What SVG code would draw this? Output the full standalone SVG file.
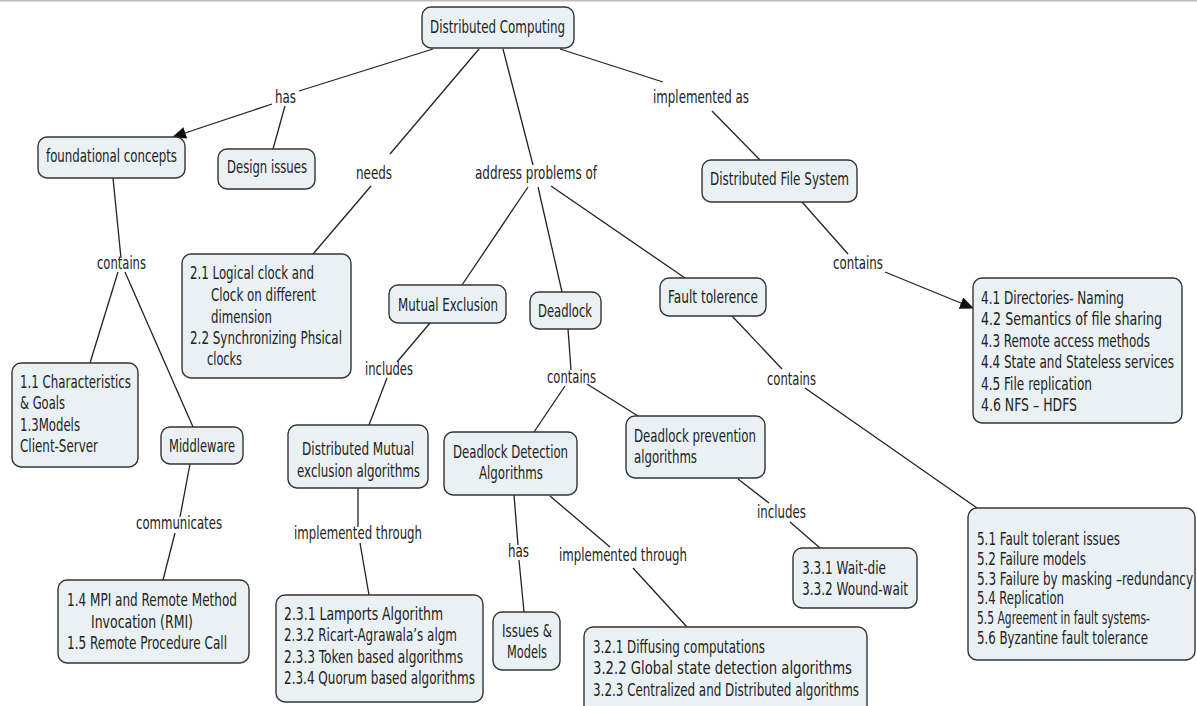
<svg xmlns="http://www.w3.org/2000/svg" width="1197" height="706" viewBox="0 0 1197 706">
<style>
.n rect{fill:#eaf1f4;stroke:#333;stroke-width:1.4}
text{font-family:"DejaVu Sans Condensed","DejaVu Sans","Liberation Sans",sans-serif;font-size:17px;fill:#222}
.c line{stroke:#222;stroke-width:1.3}
</style>
<defs>
<marker id="ah" markerUnits="userSpaceOnUse" markerWidth="14" markerHeight="12" refX="13" refY="6" orient="auto">
<path d="M0,0 L14,6 L0,12 Z" fill="#111"/>
</marker>
</defs>
<rect x="0" y="0" width="1197" height="706" fill="#fff"/>
<line x1="0" y1="0.8" x2="1197" y2="0.8" stroke="#bbb" stroke-width="1.6"/>
<g class="c" id="connectors">
<line x1="433" y1="49" x2="299" y2="91"/>
<line x1="272" y1="104" x2="173" y2="137" marker-end="url(#ah)"/>
<line x1="285" y1="106" x2="273" y2="149"/>
<line x1="479" y1="49" x2="390" y2="154"/>
<line x1="371" y1="186" x2="313" y2="254"/>
<line x1="503" y1="49" x2="533" y2="165"/>
<line x1="528" y1="187" x2="462" y2="285"/>
<line x1="538" y1="187" x2="562" y2="292"/>
<line x1="551" y1="186" x2="685" y2="278"/>
<line x1="560" y1="49" x2="663" y2="82"/>
<line x1="712" y1="111" x2="760" y2="160"/>
<line x1="802" y1="202" x2="848" y2="254"/>
<line x1="885" y1="272" x2="973" y2="308" marker-end="url(#ah)"/>
<line x1="113" y1="178" x2="121" y2="258"/>
<line x1="118" y1="272" x2="90" y2="363"/>
<line x1="125" y1="272" x2="193" y2="427"/>
<line x1="190" y1="464" x2="180" y2="517"/>
<line x1="175" y1="533" x2="163" y2="580"/>
<line x1="430" y1="323" x2="397" y2="362"/>
<line x1="387" y1="378" x2="369" y2="425"/>
<line x1="358" y1="488" x2="358" y2="527"/>
<line x1="360" y1="543" x2="369" y2="595"/>
<line x1="568" y1="329" x2="571" y2="370"/>
<line x1="565" y1="386" x2="534" y2="432"/>
<line x1="587" y1="384" x2="638" y2="416"/>
<line x1="514" y1="495" x2="518" y2="545"/>
<line x1="519" y1="560" x2="524" y2="612"/>
<line x1="550" y1="496" x2="610" y2="547"/>
<line x1="633" y1="568" x2="687" y2="627"/>
<line x1="738" y1="479" x2="769" y2="503"/>
<line x1="790" y1="522" x2="820" y2="548"/>
<line x1="732" y1="316" x2="782" y2="369"/>
<line x1="805" y1="388" x2="977" y2="508"/>
</g>
<g id="labels">
<text x="275" y="103" textLength="21" lengthAdjust="spacingAndGlyphs">has</text>
<text x="356" y="179" textLength="36" lengthAdjust="spacingAndGlyphs">needs</text>
<text x="475" y="179" textLength="122" lengthAdjust="spacingAndGlyphs">address problems of</text>
<text x="653" y="103" textLength="96" lengthAdjust="spacingAndGlyphs">implemented as</text>
<text x="97" y="269" textLength="49" lengthAdjust="spacingAndGlyphs">contains</text>
<text x="833" y="269" textLength="50" lengthAdjust="spacingAndGlyphs">contains</text>
<text x="365" y="375" textLength="48" lengthAdjust="spacingAndGlyphs">includes</text>
<text x="547" y="383" textLength="49" lengthAdjust="spacingAndGlyphs">contains</text>
<text x="767" y="385" textLength="49" lengthAdjust="spacingAndGlyphs">contains</text>
<text x="136" y="529" textLength="86" lengthAdjust="spacingAndGlyphs">communicates</text>
<text x="294" y="539" textLength="128" lengthAdjust="spacingAndGlyphs">implemented through</text>
<text x="508" y="557" textLength="21" lengthAdjust="spacingAndGlyphs">has</text>
<text x="559" y="561" textLength="128" lengthAdjust="spacingAndGlyphs">implemented through</text>
<text x="757" y="518" textLength="49" lengthAdjust="spacingAndGlyphs">includes</text>
</g>
<g class="n" id="n-dc"><rect x="422" y="7" width="152" height="41" rx="9"/>
<text x="430" y="33" textLength="135" lengthAdjust="spacingAndGlyphs">Distributed Computing</text></g>
<g class="n" id="n-fc"><rect x="38" y="137" width="147" height="41" rx="9"/>
<text x="46" y="162" textLength="131" lengthAdjust="spacingAndGlyphs">foundational concepts</text></g>
<g class="n" id="n-di"><rect x="218" y="149" width="97" height="40" rx="9"/>
<text x="227" y="173" textLength="80" lengthAdjust="spacingAndGlyphs">Design issues</text></g>
<g class="n" id="n-clock"><rect x="182" y="254" width="169" height="124" rx="9"/>
<text x="190" y="279" textLength="124" lengthAdjust="spacingAndGlyphs">2.1 Logical clock and</text>
<text x="211" y="301" textLength="105" lengthAdjust="spacingAndGlyphs">Clock on different</text>
<text x="211" y="323" textLength="61" lengthAdjust="spacingAndGlyphs">dimension</text>
<text x="190" y="344" textLength="152" lengthAdjust="spacingAndGlyphs">2.2 Synchronizing Phsical</text>
<text x="207" y="365" textLength="35" lengthAdjust="spacingAndGlyphs">clocks</text></g>
<g class="n" id="n-char"><rect x="12" y="363" width="126" height="104" rx="9"/>
<text x="20" y="388" textLength="111" lengthAdjust="spacingAndGlyphs">1.1 Characteristics</text>
<text x="20" y="409" textLength="45" lengthAdjust="spacingAndGlyphs">&amp; Goals</text>
<text x="20" y="431" textLength="60" lengthAdjust="spacingAndGlyphs">1.3Models</text>
<text x="20" y="452" textLength="78" lengthAdjust="spacingAndGlyphs">Client-Server</text></g>
<g class="n" id="n-mw"><rect x="161" y="427" width="82" height="37" rx="9"/>
<text x="169" y="452" textLength="66" lengthAdjust="spacingAndGlyphs">Middleware</text></g>
<g class="n" id="n-me"><rect x="389" y="285" width="117" height="38" rx="9"/>
<text x="398" y="311" textLength="100" lengthAdjust="spacingAndGlyphs">Mutual Exclusion</text></g>
<g class="n" id="n-dl"><rect x="530" y="292" width="71" height="37" rx="9"/>
<text x="538" y="317" textLength="54" lengthAdjust="spacingAndGlyphs">Deadlock</text></g>
<g class="n" id="n-ft"><rect x="660" y="278" width="106" height="38" rx="9"/>
<text x="668" y="303" textLength="90" lengthAdjust="spacingAndGlyphs">Fault tolerence</text></g>
<g class="n" id="n-dfs"><rect x="702" y="160" width="155" height="42" rx="9"/>
<text x="710" y="185" textLength="139" lengthAdjust="spacingAndGlyphs">Distributed File System</text></g>
<g class="n" id="n-dfs-items"><rect x="973" y="278" width="209" height="145" rx="9"/>
<text x="981" y="304" textLength="143" lengthAdjust="spacingAndGlyphs">4.1 Directories- Naming</text>
<text transform="matrix(0.785 0 0 1 981 0)" x="0" y="325" textLength="230.6" lengthAdjust="spacingAndGlyphs">4.2 Semantics of file sharing</text>
<text transform="matrix(0.785 0 0 1 981 0)" x="0" y="347" textLength="215.3" lengthAdjust="spacingAndGlyphs">4.3 Remote access methods</text>
<text transform="matrix(0.785 0 0 1 981 0)" x="0" y="368" textLength="245.9" lengthAdjust="spacingAndGlyphs">4.4 State and Stateless services</text>
<text x="981" y="390" textLength="111" lengthAdjust="spacingAndGlyphs">4.5 File replication</text>
<text x="981" y="411" textLength="96" lengthAdjust="spacingAndGlyphs">4.6 NFS – HDFS</text></g>
<g class="n" id="n-dmea"><rect x="288" y="425" width="140" height="63" rx="9"/>
<text x="302" y="455" textLength="112" lengthAdjust="spacingAndGlyphs">Distributed Mutual</text>
<text x="297" y="477" textLength="123" lengthAdjust="spacingAndGlyphs">exclusion algorithms</text></g>
<g class="n" id="n-dda"><rect x="444" y="432" width="133" height="63" rx="9"/>
<text x="453" y="458" textLength="115" lengthAdjust="spacingAndGlyphs">Deadlock Detection</text>
<text x="479" y="479" textLength="64" lengthAdjust="spacingAndGlyphs">Algorithms</text></g>
<g class="n" id="n-dpa"><rect x="626" y="416" width="139" height="62" rx="9"/>
<text x="634" y="442" textLength="122" lengthAdjust="spacingAndGlyphs">Deadlock prevention</text>
<text x="634" y="463" textLength="63" lengthAdjust="spacingAndGlyphs">algorithms</text></g>
<g class="n" id="n-wait"><rect x="793" y="548" width="124" height="60" rx="9"/>
<text x="802" y="574" textLength="84" lengthAdjust="spacingAndGlyphs">3.3.1 Wait-die</text>
<text x="802" y="595" textLength="106" lengthAdjust="spacingAndGlyphs">3.3.2 Wound-wait</text></g>
<g class="n" id="n-rmi"><rect x="58" y="580" width="191" height="83" rx="9"/>
<text x="67" y="606" textLength="170" lengthAdjust="spacingAndGlyphs">1.4 MPI and Remote Method</text>
<text x="91" y="628" textLength="102" lengthAdjust="spacingAndGlyphs">Invocation (RMI)</text>
<text x="67" y="649" textLength="160" lengthAdjust="spacingAndGlyphs">1.5 Remote Procedure Call</text></g>
<g class="n" id="n-mealg"><rect x="276" y="595" width="207" height="107" rx="9"/>
<text x="284" y="620" textLength="159" lengthAdjust="spacingAndGlyphs">2.3.1  Lamports Algorithm</text>
<text x="284" y="641" textLength="173" lengthAdjust="spacingAndGlyphs">2.3.2 Ricart-Agrawala’s algm</text>
<text x="284" y="663" textLength="179" lengthAdjust="spacingAndGlyphs">2.3.3 Token based algorithms</text>
<text x="284" y="684" textLength="191" lengthAdjust="spacingAndGlyphs">2.3.4 Quorum based algorithms</text></g>
<g class="n" id="n-issues"><rect x="493" y="612" width="67" height="58" rx="9"/>
<text x="502" y="637" textLength="50" lengthAdjust="spacingAndGlyphs">Issues &amp;</text>
<text x="507" y="658" textLength="40" lengthAdjust="spacingAndGlyphs">Models</text></g>
<g class="n" id="n-ddalg"><rect x="584" y="627" width="283" height="90" rx="9"/>
<text x="593" y="653" textLength="172" lengthAdjust="spacingAndGlyphs">3.2.1 Diffusing computations</text>
<text x="593" y="674" textLength="259" lengthAdjust="spacingAndGlyphs">3.2.2 Global state detection algorithms</text>
<text x="593" y="696" textLength="266" lengthAdjust="spacingAndGlyphs">3.2.3 Centralized and Distributed algorithms</text></g>
<g class="n" id="n-ftitems"><rect x="968" y="508" width="227" height="152" rx="9"/>
<text x="977" y="545" textLength="143" lengthAdjust="spacingAndGlyphs">5.1 Fault tolerant issues</text>
<text x="977" y="565" textLength="109" lengthAdjust="spacingAndGlyphs">5.2 Failure models</text>
<text transform="matrix(0.785 0 0 1 977 0)" x="0" y="585" textLength="275.2" lengthAdjust="spacingAndGlyphs">5.3 Failure by masking –redundancy</text>
<text x="977" y="604" textLength="87" lengthAdjust="spacingAndGlyphs">5.4 Replication</text>
<text transform="matrix(0.785 0 0 1 977 0)" x="0" y="624" textLength="220.4" lengthAdjust="spacingAndGlyphs">5.5 Agreement in fault systems-</text>
<text transform="matrix(0.785 0 0 1 977 0)" x="0" y="644" textLength="217.8" lengthAdjust="spacingAndGlyphs">5.6 Byzantine fault tolerance</text></g>
</svg>
